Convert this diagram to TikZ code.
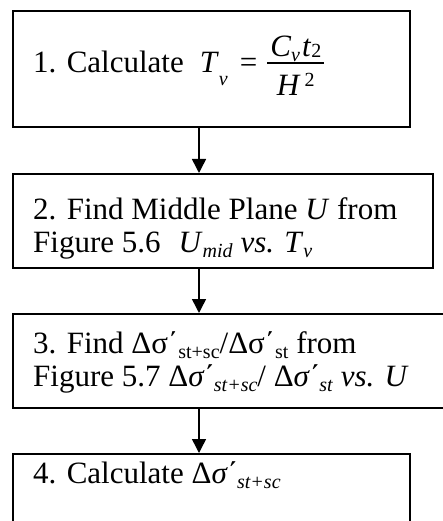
\documentclass[tikz,border=0pt]{standalone}
\usepackage{fontspec}
\setmainfont{Liberation Serif}
\usetikzlibrary{arrows.meta,calc}
\newlength\fracw
\newsavebox\numbox
\newsavebox\denbox
% lowered subscript: [amount]{text}
\newcommand\lsub[2][6pt]{\raisebox{-#1}{\fontsize{20}{20}\selectfont #2}}
\newcommand\usup[2][4pt]{\raisebox{#1}{\fontsize{20}{20}\selectfont #2}}
\newcommand\myfrac[2]{%
  \sbox\numbox{#1}\sbox\denbox{#2}%
  \setlength\fracw{\wd\numbox}%
  \ifdim\wd\denbox>\fracw\setlength\fracw{\wd\denbox}\fi
  \addtolength\fracw{6pt}%
  \makebox[0pt][l]{\raisebox{16pt}{\makebox[\fracw]{\usebox\numbox}}}%
  \makebox[0pt][l]{\raisebox{-23pt}{\makebox[\fracw]{\usebox\denbox}}}%
  \rule[9.4pt]{\fracw}{1.3pt}}
\tikzset{
  stepbox/.style={draw, line width=1.8pt, rectangle, inner sep=0pt, anchor=north west},
  txt/.style={anchor=base west, inner sep=0pt, font=\fontsize{31}{33}\selectfont},
  arr/.style={line width=1.5pt, -{Triangle[length=14pt,width=14pt]}}
}
\begin{document}
\begin{tikzpicture}[x=1pt,y=-1pt]
\useasboundingbox (0,0) rectangle (443,521);
\clip (0,0) rectangle (443,521);
\node[stepbox, minimum width=397pt, minimum height=116pt] (b1) at (12,10) {};
\node[stepbox, minimum width=420pt, minimum height=94pt] (b2) at (12,173) {};
\node[stepbox, minimum width=440pt, minimum height=94pt] (b3) at (12,313) {};
\node[stepbox, minimum width=397pt, minimum height=90pt] (b4) at (12,453) {};
\coordinate (ax) at (199,0);
\node[txt] (t1) at (33,73) {1. Calculate\hspace{16pt}\textit{T}\lsub[13pt]{\textit{v}}\hspace{12pt}=\hspace{10pt}\myfrac{\textit{C}\lsub[5pt]{\textit{v}}\hspace{2pt}\textit{t}\lsub[1pt]{2}}{\textit{H}\hspace{4pt}\usup[9pt]{2}}};
\node[txt] (t2a) at (33,219) {2. Find Middle Plane \textit{U} from};
\node[txt] (t2b) at (33,252) {Figure 5.6\hspace{18pt}\textit{U}\lsub[5pt]{\textit{mid}} \textit{vs. T}\lsub[5pt]{\textit{v}}};
\node[txt] (t3a) at (33,353) {3. Find Δσ΄\lsub[5pt]{st+sc}/Δσ΄\lsub[5pt]{st} from};
\node[txt] (t3b) at (33,386) {Figure 5.7 Δ\textit{σ΄}\lsub[5pt]{\textit{st+sc}}/ Δ\textit{σ΄}\lsub[5pt]{\textit{st}} \textit{vs. U}};
\node[txt] (t4) at (33,483) {4. Calculate Δ\textit{σ΄}\lsub[5pt]{\textit{st+sc}}};
\draw[arr] (b1.south -| ax) -- (b2.north -| ax);
\draw[arr] (b2.south -| ax) -- (b3.north -| ax);
\draw[arr] (b3.south -| ax) -- (b4.north -| ax);
\end{tikzpicture}
\end{document}
